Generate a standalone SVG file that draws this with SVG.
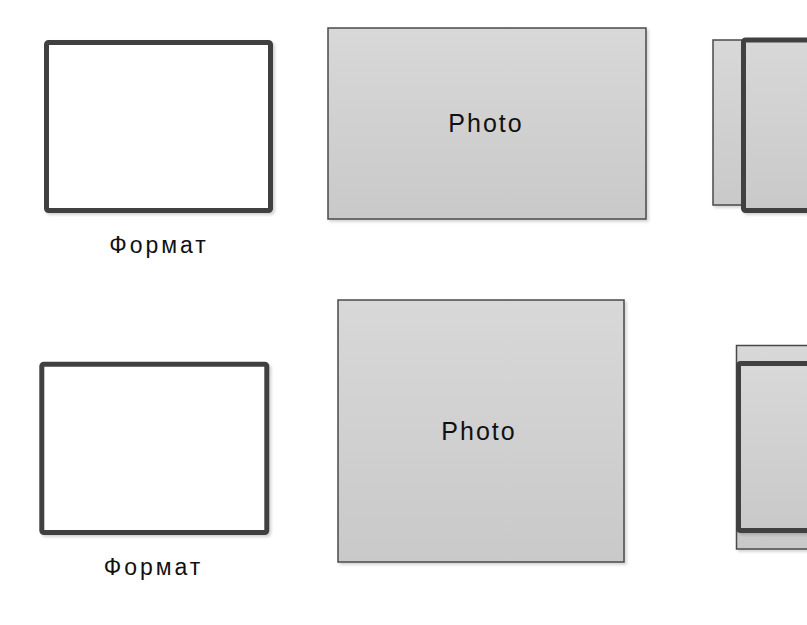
<svg xmlns="http://www.w3.org/2000/svg" width="807" height="625" viewBox="0 0 807 625">
  <defs>
    <linearGradient id="g" x1="0" y1="0" x2="0" y2="1">
      <stop offset="0" stop-color="#d8d8d8"/>
      <stop offset="1" stop-color="#c9c9c9"/>
    </linearGradient>
    <filter id="sh" x="-5%" y="-5%" width="115%" height="115%">
      <feGaussianBlur in="SourceAlpha" stdDeviation="1.5"/>
      <feOffset dx="2" dy="2" result="b"/>
      <feComponentTransfer><feFuncA type="linear" slope="0.18"/></feComponentTransfer>
      <feMerge><feMergeNode/><feMergeNode in="SourceGraphic"/></feMerge>
    </filter>
  </defs>
  <style>
    .frame { fill: #ffffff; stroke: #404040; stroke-width: 5; filter: url(#sh); }
    .thick { fill: url(#g); stroke: #404040; stroke-width: 5; filter: url(#sh); }
    .photo { fill: url(#g); stroke: #4a4a4a; stroke-width: 1.5; filter: url(#sh); }
    .lbl { font-family: "Liberation Sans", Arial, sans-serif; fill: #111111; text-anchor: middle; }
    .ph { font-size: 25px; letter-spacing: 2px; }
    .fm { font-size: 23px; letter-spacing: 3px; }
  </style>
  <rect width="807" height="625" fill="#ffffff"/>

  <g id="format1">
    <rect class="frame" x="46.5" y="42.5" width="224" height="168" rx="2"/>
    <text class="lbl fm" x="159" y="253">Формат</text>
  </g>
  <g id="photo1">
    <rect class="photo" x="328" y="28" width="318" height="191"/>
    <text class="lbl ph" x="486" y="132">Photo</text>
  </g>
  <g id="stack1">
    <rect class="photo" x="713" y="40" width="120" height="165"/>
    <rect class="thick" x="743.5" y="40" width="120" height="170.5" rx="2"/>
  </g>

  <g id="format2">
    <rect class="frame" x="41.8" y="364.2" width="225" height="168.3" rx="2"/>
    <text class="lbl fm" x="153.5" y="575">Формат</text>
  </g>
  <g id="photo2">
    <rect class="photo" x="338" y="300" width="286" height="262"/>
    <text class="lbl ph" x="479" y="440">Photo</text>
  </g>
  <g id="stack2">
    <rect class="photo" x="736.5" y="345.5" width="120" height="203.5"/>
    <rect class="thick" x="738.5" y="363.5" width="120" height="167" rx="2"/>
  </g>
  <g id="connectors"/>
</svg>
